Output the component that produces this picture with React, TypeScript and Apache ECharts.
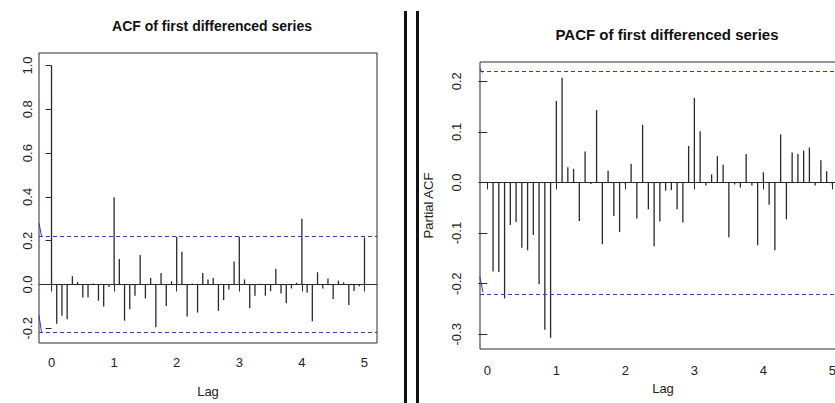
import React, { useEffect, useRef } from "react";
import * as echarts from "echarts";

// ACF values at lags k/12, k = 0..60
const acfValues = [
  1.0, -0.179, -0.143, -0.158, 0.038, 0.012, -0.059, -0.059, 0.005, -0.074, -0.1, -0.011,
  0.398, 0.117, -0.165, -0.113, -0.051, 0.135, -0.063, 0.03, -0.195, 0.053, -0.098, 0.015,
  0.218, 0.15, -0.146, 0.004, -0.128, 0.053, 0.023, 0.03, -0.12, -0.071, -0.023, 0.105,
  0.218, 0.023, -0.108, -0.051, 0.004, -0.051, -0.03, 0.072, -0.041, -0.086, -0.018, 0.008,
  0.3, -0.038, -0.168, 0.056, -0.018, 0.027, -0.066, 0.018, 0.01, -0.093, -0.03, -0.008,
  0.215,
];

// PACF values at lags k/12, k = 1..60
const pacfValues = [
  -0.176, -0.177, -0.229, -0.084, -0.078, -0.129, -0.134, -0.104, -0.201, -0.291, -0.307,
  0.161, 0.207, 0.03, 0.027, -0.076, 0.061, -0.003, 0.143, -0.122, 0.023, -0.066, -0.098,
  -0.004, 0.037, -0.071, 0.114, -0.053, -0.126, -0.077, -0.016, -0.015, -0.053, -0.079,
  0.072, 0.167, 0.101, -0.006, 0.016, 0.052, 0.035, -0.108, -0.004, -0.01, 0.056, -0.006,
  -0.124, 0.02, -0.044, -0.134, 0.095, -0.073, 0.059, 0.056, 0.063, 0.069, -0.006, 0.044,
  0.022, -0.005,
];

const acfConf = 0.218;
const pacfConf = 0.217;

const lagTicks = [0, 1, 2, 3, 4, 5];
const acfTicks = [-0.2, 0, 0.2, 0.4, 0.6, 0.8, 1.0];
const pacfTicks = [-0.3, -0.2, -0.1, 0, 0.1, 0.2];

// small blue strokes at the left edge of each panel
const acfUpperStroke = [[-0.2, 0.28], [-0.158, 0.218]];
const acfLowerStroke = [[-0.2, -0.14], [-0.16, -0.218]];
const pacfUpperStroke = [[-0.11, 0.226], [-0.07, 0.217]];
const pacfLowerStroke = [[-0.11, -0.186], [-0.062, -0.217]];

const FONT = "'Liberation Sans', Arial, Helvetica, sans-serif";
const INK = "#2a2a2a";
const BLUE = "#3838b8";

export default function App() {
  const ref = useRef<HTMLDivElement>(null);

  useEffect(() => {
    if (!ref.current) return;
    const chart = echarts.init(ref.current, undefined, { renderer: "svg" });

    const acfData = acfValues.map((v, k) => [k / 12, v]);
    const pacfData = pacfValues.map((v, i) => [(i + 1) / 12, v]);

    const fmt = (v: number) => (Math.abs(v) < 1e-9 ? "0.0" : v.toFixed(1));

    const markLines = (conf: number) => ({
      silent: true,
      symbol: "none",
      label: { show: false },
      animation: false,
      data: [
        { yAxis: 0, lineStyle: { color: INK, width: 1, type: "solid" } },
        { yAxis: conf, lineStyle: { color: BLUE, width: 1.1, type: [4, 3] } },
        { yAxis: -conf, lineStyle: { color: BLUE, width: 1.1, type: [4, 3] } },
      ],
    });

    const stroke = (data: number[][], idx: number) => ({
      type: "line",
      xAxisIndex: idx,
      yAxisIndex: idx,
      data,
      symbol: "none",
      silent: true,
      clip: true,
      lineStyle: { color: BLUE, width: 1 },
    });

    chart.setOption({
      animation: false,
      textStyle: { fontFamily: FONT },
      title: [
        {
          text: "ACF of first differenced series",
          left: 207,
          top: 14,
          textAlign: "center",
          textStyle: { fontSize: 14, fontWeight: "bold", color: "#111", fontFamily: FONT },
        },
        {
          text: "PACF of first differenced series",
          left: 662,
          top: 22,
          textAlign: "center",
          textStyle: { fontSize: 15, fontWeight: "bold", color: "#111", fontFamily: FONT },
        },
      ],
      grid: [
        {
          left: 39,
          top: 53,
          width: 338,
          height: 295,
          show: true,
          borderColor: INK,
          borderWidth: 1,
          backgroundColor: "transparent",
        },
        {
          left: 480,
          top: 62,
          width: 366,
          height: 287,
          show: true,
          borderColor: INK,
          borderWidth: 1,
          backgroundColor: "transparent",
        },
      ],
      xAxis: [
        {
          type: "value",
          gridIndex: 0,
          min: -0.2,
          max: 5.2,
          name: "Lag",
          nameLocation: "middle",
          nameGap: 42,
          nameTextStyle: { fontSize: 13, color: "#222", fontFamily: FONT },
          axisLine: { show: false },
          splitLine: { show: false },
          axisTick: { show: true, length: 7, lineStyle: { color: INK }, customValues: lagTicks },
          axisLabel: { customValues: lagTicks, margin: 13, fontSize: 13, color: "#222", fontFamily: FONT },
        },
        {
          type: "value",
          gridIndex: 1,
          min: -0.106,
          max: 5.197,
          name: "Lag",
          nameLocation: "middle",
          nameGap: 32,
          nameTextStyle: { fontSize: 13, color: "#222", fontFamily: FONT },
          axisLine: { show: false },
          splitLine: { show: false },
          axisTick: { show: true, length: 7, lineStyle: { color: INK }, customValues: lagTicks },
          axisLabel: { customValues: lagTicks, margin: 15, fontSize: 13, color: "#222", fontFamily: FONT },
        },
      ],
      yAxis: [
        {
          type: "value",
          gridIndex: 0,
          min: -0.267,
          max: 1.057,
          axisLine: { show: false },
          splitLine: { show: false },
          axisTick: { show: true, length: 6, lineStyle: { color: INK }, customValues: acfTicks },
          axisLabel: {
            customValues: acfTicks,
            rotate: 90,
            margin: 5,
            fontSize: 13,
            color: "#222",
            fontFamily: FONT,
            formatter: fmt,
          },
        },
        {
          type: "value",
          gridIndex: 1,
          min: -0.329,
          max: 0.238,
          name: "Partial ACF",
          nameLocation: "middle",
          nameGap: 45,
          nameTextStyle: { fontSize: 13, color: "#222", fontFamily: FONT },
          axisLine: { show: false },
          splitLine: { show: false },
          axisTick: { show: true, length: 9, lineStyle: { color: INK }, customValues: pacfTicks },
          axisLabel: {
            customValues: pacfTicks,
            rotate: 90,
            margin: 17,
            fontSize: 13,
            color: "#222",
            fontFamily: FONT,
            formatter: fmt,
          },
        },
      ],
      series: [
        {
          type: "bar",
          xAxisIndex: 0,
          yAxisIndex: 0,
          data: acfData,
          barWidth: 1.3,
          itemStyle: { color: INK },
          silent: true,
          markLine: markLines(acfConf),
        },
        {
          type: "bar",
          xAxisIndex: 1,
          yAxisIndex: 1,
          data: pacfData,
          barWidth: 1.3,
          itemStyle: { color: INK },
          silent: true,
          markLine: markLines(pacfConf),
        },
        stroke(acfUpperStroke, 0),
        stroke(acfLowerStroke, 0),
        stroke(pacfUpperStroke, 1),
        stroke(pacfLowerStroke, 1),
      ],
      graphic: [
        {
          type: "rect",
          shape: { x: 404, y: 11, width: 3, height: 400 },
          style: { fill: "#111" },
          silent: true,
        },
        {
          type: "rect",
          shape: { x: 416, y: 11, width: 3, height: 400 },
          style: { fill: "#111" },
          silent: true,
        },
      ],
    });

    return () => chart.dispose();
  }, []);

  return (
    <div
      style={{
        position: "fixed",
        left: 0,
        top: 0,
        width: 835,
        height: 403,
        overflow: "hidden",
        background: "#fff",
      }}
    >
      <div ref={ref} style={{ width: 850, height: 403 }} />
    </div>
  );
}
